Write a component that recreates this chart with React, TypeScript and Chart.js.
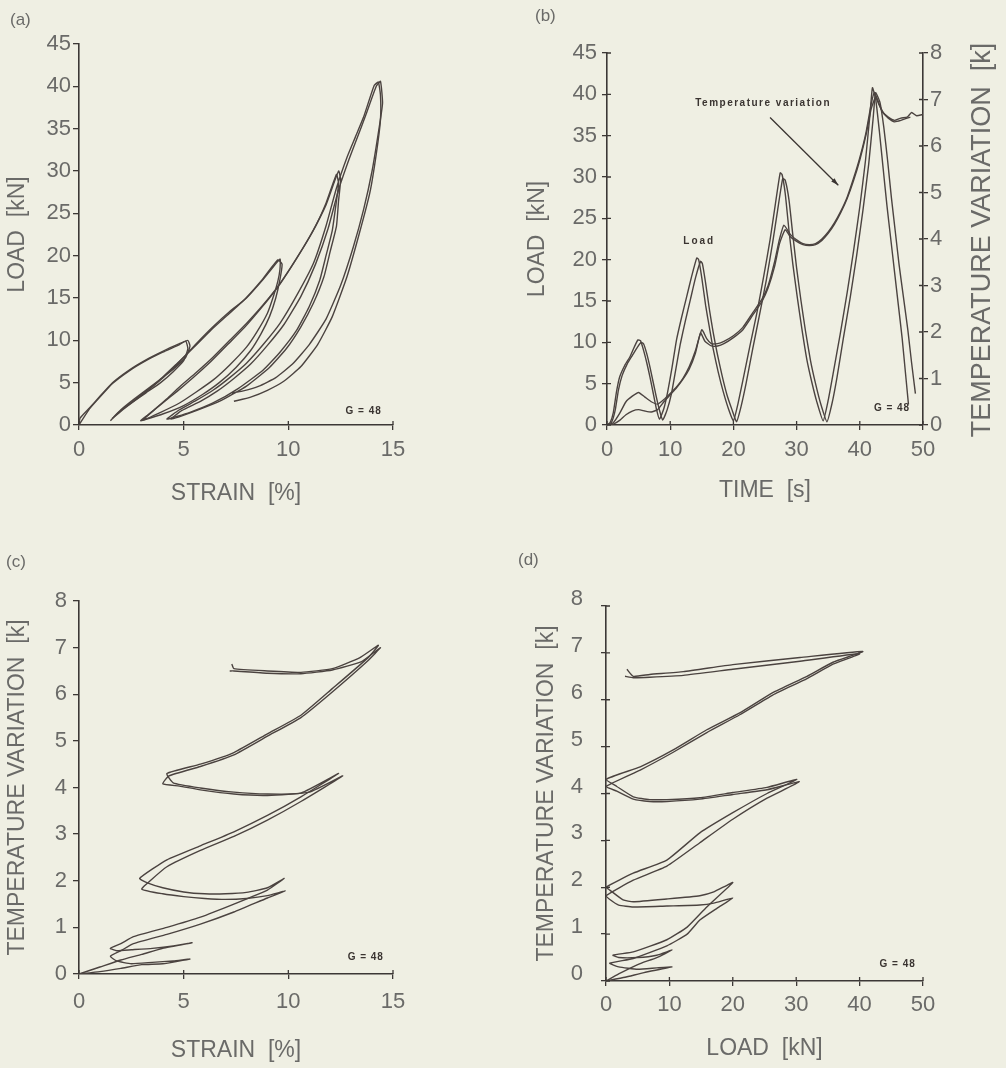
import React, { useEffect, useRef } from "react";
import { Chart, registerables } from "chart.js";

Chart.register(...registerables);

const BG = "#efefe3";
const INK = "#4b4340";
const AXIS = "#3c3836";
const TXT = "#6a6a68";
const NOTE = "#3a3431";
const FONT = "'Liberation Sans', Arial, Helvetica, sans-serif";
const NARROW = "'Liberation Sans Narrow', 'Liberation Sans', Arial, sans-serif";

// ---------------- (a) LOAD vs STRAIN ----------------
const aStrain1 = [0, 0.05, 0.5, 1.0, 1.6, 2.4, 3.2, 4.0, 4.8, 5.2,
  5.3, 5.1, 4.6, 4.0, 3.3, 2.6, 2.0, 1.6,
  2.2, 3.2, 4.2, 5.0, 5.6, 6.4, 7.2, 8.0, 8.8, 9.6,
  9.6, 9.5, 9.3, 9.0, 8.5, 8.0, 7.2, 6.4, 5.6, 4.8, 3.9, 3.06,
  3.6, 4.2, 4.8, 5.6, 6.4, 7.2, 8.0, 8.8, 9.6, 10.4, 11.2, 11.8, 12.3,
  12.4, 12.3, 12.1, 11.8, 11.5, 11.0, 10.4, 9.6, 8.8, 7.6, 6.4, 5.3, 4.2,
  4.8, 5.6, 6.4, 7.2, 8.0, 8.8, 9.6, 10.4, 11.2, 11.8, 12.3, 12.8, 13.2, 13.6, 14.1, 14.3,
  14.4, 14.4, 14.2, 13.9, 13.4, 12.8, 12.1, 11.4, 10.6, 9.8, 9.0, 8.2, 7.4];
const aLoad1 = [0, 0.8, 2.0, 3.4, 5.0, 6.5, 7.7, 8.7, 9.6, 10.0,
  9.3, 8.0, 6.8, 5.6, 4.3, 3.0, 1.8, 0.8,
  2.0, 3.9, 6.0, 8.0, 9.6, 11.6, 13.4, 15.0, 17.2, 19.6,
  18.4, 17.0, 15.3, 13.2, 11.0, 9.2, 7.1, 5.3, 3.9, 2.6, 1.5, 0.6,
  1.8, 3.1, 4.5, 6.2, 8.0, 10.0, 12.0, 14.2, 16.7, 19.7, 23.0, 26.2, 29.6,
  28.5, 26.5, 23.0, 20.0, 17.1, 14.0, 11.2, 8.6, 6.5, 4.3, 2.6, 1.5, 0.7,
  1.8, 2.9, 4.1, 5.6, 7.3, 9.5, 12.0, 15.3, 19.1, 23.5, 28.0, 31.6, 34.0, 36.4, 40.1, 40.5,
  39.0, 36.0, 32.0, 27.5, 22.7, 17.5, 12.8, 9.5, 6.9, 5.2, 4.1, 3.3, 2.8];
const aStrain2 = [0, 0.5, 1.0, 1.6, 2.4, 3.2, 4.0, 4.8, 5.1,
  5.2, 5.0, 4.5, 3.9, 3.2, 2.5, 1.9, 1.5,
  1.9, 2.8, 3.8, 4.7, 5.5, 6.3, 7.1, 7.9, 8.7, 9.5,
  9.7, 9.6, 9.4, 9.1, 8.7, 8.2, 7.5, 6.7, 5.9, 5.0, 4.0, 2.95,
  3.3, 4.0, 4.7, 5.5, 6.3, 7.1, 7.9, 8.7, 9.5, 10.3, 11.1, 11.8, 12.4,
  12.5, 12.4, 12.3, 12.0, 11.7, 11.2, 10.6, 9.9, 9.1, 8.0, 6.8, 5.6, 4.4,
  4.9, 5.8, 6.6, 7.4, 8.2, 9.0, 9.8, 10.6, 11.3, 11.9, 12.4, 12.9, 13.3, 13.7, 14.2, 14.4,
  14.5, 14.3, 14.0, 13.6, 13.1, 12.5, 11.8, 11.0, 10.2, 9.4, 8.6, 7.8, 7.3];
const aLoad2 = [0, 1.9, 3.3, 4.9, 6.4, 7.6, 8.6, 9.5, 9.9,
  9.0, 7.6, 6.3, 5.0, 3.8, 2.6, 1.5, 0.5,
  1.5, 3.2, 5.2, 7.3, 9.2, 11.2, 13.0, 14.8, 17.0, 19.5,
  19.0, 17.2, 15.0, 12.8, 10.8, 8.8, 6.8, 5.0, 3.6, 2.3, 1.3, 0.5,
  1.2, 2.6, 4.0, 5.7, 7.5, 9.5, 11.5, 13.8, 16.3, 19.3, 22.6, 26.0, 30.0,
  29.0, 26.5, 23.5, 20.5, 17.5, 14.4, 11.6, 9.0, 6.8, 4.6, 2.9, 1.7, 0.7,
  1.7, 2.8, 4.0, 5.5, 7.2, 9.4, 11.9, 15.2, 19.0, 23.2, 27.8, 31.4, 34.0, 36.6, 40.0, 40.6,
  38.0, 34.5, 30.0, 25.5, 21.0, 16.5, 12.5, 9.5, 7.2, 5.6, 4.6, 4.0, 3.8];

// ---------------- (b) LOAD & TEMPERATURE vs TIME ----------------
const bTime1 = [0, 0.5, 1.0, 1.5, 2.0, 2.8, 3.6, 4.3, 4.9, 5.3, 5.8, 6.3, 6.8, 7.3, 7.8, 8.3,
  9.0, 9.6, 10.3, 11.0, 11.8, 12.6, 13.4, 14.2, 14.5,
  15.0, 15.6, 16.2, 16.8, 17.6, 18.4, 19.2, 20.0,
  20.7, 21.5, 22.6, 23.7, 24.8, 25.8, 26.6, 27.4, 27.7,
  28.2, 28.8, 29.4, 30.1, 30.8, 31.6, 32.4, 33.2, 34.2,
  35.0, 35.8, 36.9, 38.0, 39.0, 40.0, 40.9, 41.6, 42.0,
  42.5, 43.1, 43.7, 44.3, 44.9, 45.5, 46.1, 46.7, 47.2, 47.7];
const bLoad1 = [0, 0.3, 1.5, 4.0, 5.8, 7.2, 8.2, 9.4, 10.3, 10.2, 9.0, 7.5, 5.8, 3.9, 2.0, 0.7,
  2.0, 4.0, 7.0, 10.3, 13.0, 15.5, 18.0, 20.2, 20.0,
  17.8, 14.5, 11.8, 9.2, 6.4, 4.0, 2.0, 0.5,
  2.5, 5.4, 9.5, 13.5, 18.0, 22.4, 26.5, 30.5, 30.3,
  28.0, 23.5, 19.5, 15.5, 11.8, 8.0, 5.2, 2.8, 0.5,
  3.0, 6.3, 11.0, 16.0, 21.0, 26.4, 32.0, 37.5, 40.8,
  39.5, 35.5, 31.0, 26.5, 22.5, 18.5, 14.5, 10.5, 6.5, 2.5];
const bTime2 = [0, 0.7, 1.3, 1.8, 2.4, 3.2, 4.0, 4.8, 5.4, 5.8, 6.3, 6.8, 7.3, 7.8, 8.3, 8.8,
  9.5, 10.2, 10.9, 11.6, 12.4, 13.2, 14.0, 14.8, 15.1,
  15.6, 16.2, 16.8, 17.4, 18.2, 19.0, 19.8, 20.5,
  21.2, 22.0, 23.0, 24.1, 25.2, 26.2, 27.0, 27.8, 28.2,
  28.8, 29.4, 30.0, 30.7, 31.4, 32.2, 33.0, 33.8, 34.8,
  35.6, 36.4, 37.4, 38.5, 39.5, 40.5, 41.4, 42.1, 42.5,
  43.2, 43.8, 44.4, 45.0, 45.6, 46.2, 46.9, 47.6, 48.2, 48.8];
const bLoad2 = [0, 0.3, 1.8, 4.2, 6.0, 7.4, 8.4, 9.4, 10.0, 9.8, 8.6, 7.0, 5.2, 3.4, 1.8, 0.6,
  1.8, 3.8, 6.8, 9.8, 12.6, 15.2, 17.8, 19.8, 19.5,
  17.2, 14.0, 11.2, 8.8, 6.0, 3.6, 1.8, 0.4,
  2.2, 5.0, 9.0, 13.2, 17.5, 22.0, 26.0, 29.8, 29.6,
  27.2, 23.0, 19.0, 15.0, 11.4, 7.8, 5.0, 2.6, 0.4,
  2.6, 5.8, 10.5, 15.5, 20.5, 26.0, 31.5, 37.0, 40.2,
  39.0, 36.0, 32.0, 27.5, 23.5, 19.5, 15.5, 11.5, 7.5, 3.8];
const bTempTime1 = [0, 1, 2, 3, 4, 5, 6, 7, 8, 9, 10, 11, 12, 13, 14, 15, 15.8, 16.5, 17.5, 18.5, 20,
  21.5, 23, 24.5, 25.5, 26.5, 27.3, 28, 29, 30, 31, 32, 33, 34, 35, 36, 37, 38, 39, 40, 41,
  41.8, 42.3, 42.8, 43.5, 44.5, 45.5, 46.5, 47.5, 48.2, 49, 50];
const bTemp1 = [0, 0.05, 0.25, 0.5, 0.62, 0.7, 0.6, 0.5, 0.45, 0.55, 0.68, 0.82, 1.0, 1.25, 1.6, 2.05, 1.85, 1.75, 1.75, 1.8, 1.92,
  2.1, 2.4, 2.7, 3.0, 3.5, 4.0, 4.3, 4.1, 3.98, 3.9, 3.88, 3.9, 4.0, 4.15, 4.35, 4.6, 4.9, 5.3, 5.75, 6.3,
  6.9, 7.15, 7.0, 6.75, 6.62, 6.55, 6.6, 6.62, 6.72, 6.65, 6.68];
const bTempTime2 = [0, 1, 2, 3, 4, 5, 6, 7, 8, 9, 10, 11, 12, 13, 14, 14.8, 15.5, 16.5, 17.5, 18.5, 20,
  21.5, 23, 24.5, 25.5, 26.5, 27.3, 28.2, 29, 30, 31, 32, 33, 34, 35, 36, 37, 38, 39, 40, 41,
  41.8, 42.5, 43, 43.8, 44.5, 45.5, 46.5, 47.5, 48];
const bTemp2 = [0, 0.02, 0.1, 0.22, 0.3, 0.33, 0.3, 0.28, 0.33, 0.5, 0.65, 0.8, 0.98, 1.2, 1.55, 1.98, 1.8, 1.7, 1.7, 1.75, 1.88,
  2.05, 2.35, 2.65, 2.95, 3.4, 3.9, 4.2, 4.05, 3.95, 3.88, 3.86, 3.88, 3.97, 4.12, 4.32, 4.57, 4.87, 5.25, 5.7, 6.25,
  6.8, 7.05, 6.9, 6.7, 6.6, 6.52, 6.55, 6.6, 6.62];

// ---------------- (c) TEMPERATURE vs STRAIN ----------------
const cStrain1 = [0, 1, 2, 3, 4, 5.4, 4.5, 3.5, 2.5, 1.8, 1.5,
  2.0, 2.6, 4.2, 5.8, 7.4, 9.0, 9.8,
  9.0, 8.0, 7.0, 6.0, 5.0, 4.0, 3.3, 2.9,
  4.2, 5.8, 7.4, 9.0, 10.6, 12.4,
  10.6, 9.0, 7.4, 5.8, 4.5, 4.2,
  5.8, 7.4, 9.0, 10.6, 12.1, 13.8, 14.3,
  13.4, 12.1, 10.6, 9.0, 7.4, 7.3];
const cTemp1 = [0, 0.15, 0.3, 0.42, 0.55, 0.67, 0.6, 0.55, 0.52, 0.5, 0.55,
  0.65, 0.8, 1.0, 1.22, 1.5, 1.8, 2.05,
  1.85, 1.75, 1.72, 1.72, 1.76, 1.85, 1.95, 2.05,
  2.45, 2.75, 3.05, 3.4, 3.8, 4.3,
  3.88, 3.86, 3.9, 3.99, 4.1, 4.3,
  4.5, 4.75, 5.15, 5.55, 6.12, 6.78, 7.05,
  6.78, 6.55, 6.47, 6.5, 6.55, 6.65];
const cStrain2 = [0, 1, 2, 3, 4, 5.3, 4.5, 3.5, 2.5, 1.8, 1.5,
  2.0, 2.6, 4.2, 5.8, 7.4, 9.0, 9.85,
  9.0, 8.0, 7.0, 6.0, 5.0, 4.0, 3.0,
  3.4, 4.2, 5.8, 7.4, 9.0, 10.6, 12.6,
  11.0, 9.0, 7.4, 5.8, 4.8, 4.0,
  4.3, 5.8, 7.4, 9.0, 10.6, 12.1, 13.8, 14.4,
  13.5, 12.1, 10.6, 9.0, 7.4, 7.2];
const cTemp2 = [0, 0.05, 0.12, 0.2, 0.22, 0.32, 0.28, 0.25, 0.22, 0.28, 0.38,
  0.5, 0.65, 0.85, 1.07, 1.33, 1.63, 1.78,
  1.68, 1.62, 1.6, 1.62, 1.66, 1.72, 1.82,
  2.0, 2.3, 2.65, 2.95, 3.3, 3.7, 4.25,
  3.9, 3.83, 3.86, 3.95, 4.03, 4.08,
  4.25, 4.45, 4.7, 5.1, 5.5, 6.05, 6.72, 7.0,
  6.7, 6.52, 6.44, 6.45, 6.5, 6.5];

// ---------------- (d) TEMPERATURE vs LOAD ----------------
const dLoad1 = [0, 2, 5, 8, 10.4, 8, 5, 2, 1.1,
  4.3, 9.6, 12.8, 15.9, 20.0,
  17.0, 14.8, 9.6, 4.3, 2.7, 0.6, 0,
  4.3, 9.6, 14.8, 20.0, 25.4, 30.1,
  25.4, 20.0, 14.8, 9.6, 6.9, 4.3, 1.7, 0,
  5.4, 10.6, 15.9, 21.1, 26.3, 31.7, 35.8, 40.5,
  30.6, 20.0, 12.2, 6.9, 4.3, 3.3];
const dTemp1 = [0, 0.15, 0.35, 0.5, 0.66, 0.55, 0.5, 0.5, 0.55,
  0.62, 0.88, 1.15, 1.58, 2.1,
  1.9, 1.82, 1.75, 1.69, 1.73, 1.94, 2.0,
  2.3, 2.58, 3.16, 3.59, 4.0, 4.3,
  4.13, 4.02, 3.91, 3.87, 3.87, 3.93, 4.15, 4.3,
  4.57, 4.93, 5.36, 5.72, 6.15, 6.5, 6.8, 7.03,
  6.9, 6.75, 6.6, 6.54, 6.5, 6.65];
const dLoad2 = [0, 3, 6, 10.4, 8, 5, 2, 0.6,
  4.3, 9.6, 12.8, 14.8, 17.5, 20.0,
  17.0, 14.8, 9.6, 4.3, 2.0, 0.5, 0,
  4.3, 9.6, 14.8, 20.0, 25.4, 30.5,
  25.4, 20.0, 14.8, 9.6, 6.9, 4.3, 1.7, 0,
  5.4, 10.6, 15.9, 21.1, 26.3, 31.7, 35.8, 40.0,
  30.6, 20.0, 12.2, 6.9, 4.3, 3.0];
const dTemp2 = [0, 0.08, 0.18, 0.3, 0.28, 0.25, 0.3, 0.38,
  0.48, 0.75, 1.0, 1.3, 1.55, 1.77,
  1.66, 1.62, 1.6, 1.58, 1.62, 1.75, 1.82,
  2.15, 2.45, 2.95, 3.45, 3.9, 4.25,
  4.08, 3.98, 3.88, 3.83, 3.83, 3.88, 4.05, 4.15,
  4.5, 4.88, 5.3, 5.68, 6.1, 6.45, 6.76, 6.98,
  6.82, 6.65, 6.52, 6.48, 6.47, 6.5];

// tick values
const aStrainTicks = [0, 15, 5];
const aLoadTicks = [0, 45, 5];
const bTimeTicks = [0, 50, 10];
const bTempTicks = [0, 8, 1];
const cTempTicks = [0, 8, 1];
const dLoadTicks = [0, 50, 10];

type P = { x: number; y: number };
const zip = (xs: number[], ys: number[]): P[] => xs.map((x, i) => ({ x, y: ys[i] }));

const extrasPlugin = {
  id: "extras",
  afterDraw(chart: any, _args: any, opts: any) {
    const ctx = chart.ctx;
    ctx.save();
    const cross = (opts && opts.cross) || {};
    ctx.strokeStyle = AXIS;
    ctx.lineWidth = 1.3;
    for (const id of Object.keys(cross)) {
      const s = chart.scales[id];
      if (!s) continue;
      const len = cross[id];
      ctx.beginPath();
      for (const t of s.ticks) {
        const p = s.getPixelForValue(t.value);
        if (s.isHorizontal()) {
          ctx.moveTo(p, s.top);
          ctx.lineTo(p, s.top - len);
        } else if (s.position === "left") {
          ctx.moveTo(s.right, p);
          ctx.lineTo(s.right + len, p);
        } else {
          ctx.moveTo(s.left, p);
          ctx.lineTo(s.left - len, p);
        }
      }
      ctx.stroke();
    }
    for (const t of (opts && opts.texts) || []) {
      const xs = chart.scales[t.xAxis || "x"];
      const ys = chart.scales[t.yAxis || "y"];
      ctx.fillStyle = t.color || NOTE;
      ctx.font = t.font;
      try { (ctx as any).letterSpacing = t.spacing || "0px"; } catch (e) {}
      ctx.textAlign = "center";
      ctx.textBaseline = "middle";
      ctx.fillText(t.text, xs.getPixelForValue(t.x), ys.getPixelForValue(t.y));
    }
    try { (ctx as any).letterSpacing = "0px"; } catch (e) {}
    for (const a of (opts && opts.arrows) || []) {
      const xs = chart.scales.x;
      const ys = chart.scales[a.yAxis || "y"];
      const x1 = xs.getPixelForValue(a.x1), y1 = ys.getPixelForValue(a.y1);
      const x2 = xs.getPixelForValue(a.x2), y2 = ys.getPixelForValue(a.y2);
      ctx.strokeStyle = NOTE;
      ctx.fillStyle = NOTE;
      ctx.lineWidth = 1.3;
      ctx.beginPath();
      ctx.moveTo(x1, y1);
      ctx.lineTo(x2, y2);
      ctx.stroke();
      const ang = Math.atan2(y2 - y1, x2 - x1);
      ctx.beginPath();
      ctx.moveTo(x2, y2);
      ctx.lineTo(x2 - 8 * Math.cos(ang - 0.3), y2 - 8 * Math.sin(ang - 0.3));
      ctx.lineTo(x2 - 8 * Math.cos(ang + 0.3), y2 - 8 * Math.sin(ang + 0.3));
      ctx.closePath();
      ctx.fill();
    }
    for (const r of (opts && opts.rotTitles) || []) {
      ctx.save();
      ctx.fillStyle = TXT;
      ctx.font = r.font;
      ctx.textAlign = "center";
      ctx.textBaseline = "middle";
      ctx.translate(r.px, r.py);
      ctx.rotate(-Math.PI / 2);
      ctx.fillText(r.text, 0, 0);
      ctx.restore();
    }
    ctx.restore();
  },
};

function scale(o: any) {
  return {
    type: "linear",
    position: o.pos,
    min: o.ticks[0],
    max: o.ticks[1],
    ticks: {
      stepSize: o.ticks[2],
      color: TXT,
      font: { family: FONT, size: 22 },
      padding: o.pad,
      labelOffset: o.labelOffset || 0,
      maxRotation: 0,
      autoSkip: false,
    },
    grid: { drawOnChartArea: false, drawTicks: true, tickLength: o.tl, color: AXIS, lineWidth: 1.3 },
    border: { display: true, color: AXIS, width: 1.6 },
    title: {
      display: !!o.title,
      text: o.title || "",
      color: TXT,
      font: { family: FONT, size: 23 },
      padding: 0,
    },
    afterFit: (s: any) => {
      if (s.isHorizontal()) s.height = o.size;
      else s.width = o.size;
    },
  };
}

const line = (data: P[], yAxisID = "y") => ({
  data,
  yAxisID,
  showLine: true,
  pointRadius: 0,
  borderColor: INK,
  backgroundColor: INK,
  borderWidth: 1.4,
  tension: 0.15,
  fill: false,
});

const noteFont = `bold 10px ${NARROW}`;

function baseOptions(padding: any, scales: any, extras: any) {
  return {
    responsive: false,
    animation: false,
    devicePixelRatio: 1,
    layout: { padding },
    scales,
    plugins: { legend: { display: false }, tooltip: { enabled: false }, extras },
  };
}

const configs: Record<string, () => any> = {
  a: () => ({
    type: "scatter",
    data: { datasets: [line(zip(aStrain1, aLoad1)), line(zip(aStrain2, aLoad2))] },
    options: baseOptions(
      { left: 4, top: 44, right: 107, bottom: 23 },
      {
        x: scale({ pos: "bottom", ticks: aStrainTicks, pad: 7, tl: 5, size: 82, title: "STRAIN  [%]" }),
        y: scale({ pos: "left", ticks: aLoadTicks, pad: 2, tl: 6, size: 75, title: "LOAD  [kN]" }),
      },
      {
        cross: { x: 4 },
        texts: [{ text: "G = 48", x: 13.6, y: 1.6, font: noteFont, spacing: "1px" }],
      }
    ),
    plugins: [extrasPlugin],
  }),
  b: () => ({
    type: "scatter",
    data: {
      datasets: [
        line(zip(bTime1, bLoad1)),
        line(zip(bTime2, bLoad2)),
        line(zip(bTempTime1, bTemp1), "y1"),
        line(zip(bTempTime2, bTemp2), "y1"),
      ],
    },
    options: baseOptions(
      { left: 24, top: 53, right: 43, bottom: 26 },
      {
        x: scale({ pos: "bottom", ticks: bTimeTicks, pad: 7, tl: 5, size: 79, title: "TIME  [s]" }),
        y: scale({ pos: "left", ticks: aLoadTicks, pad: 5, tl: 5, size: 83, title: "LOAD  [kN]" }),
        y1: scale({ pos: "right", ticks: bTempTicks, pad: 2, tl: 5, size: 40 }),
      },
      {
        cross: { x: 4, y: 4, y1: 4 },
        texts: [
          { text: "Load", x: 14.6, y: 22.2, font: noteFont, spacing: "2px" },
          { text: "Temperature variation", x: 24.7, y: 38.9, font: noteFont, spacing: "1.5px" },
          { text: "G = 48", x: 45.1, y: 2.0, font: noteFont, spacing: "1px" },
        ],
        arrows: [{ x1: 25.8, y1: 37.2, x2: 36.6, y2: 29.0 }],
        rotTitles: [{ text: "TEMPERATURE VARIATION  [k]", px: 483, py: 240, font: `27px ${FONT}` }],
      }
    ),
    plugins: [extrasPlugin],
  }),
  c: () => ({
    type: "scatter",
    data: { datasets: [line(zip(cStrain1, cTemp1)), line(zip(cStrain2, cTemp2))] },
    options: baseOptions(
      { left: 4, top: 61, right: 107, bottom: 4 },
      {
        x: scale({ pos: "bottom", ticks: aStrainTicks, pad: 10, tl: 5, size: 90, title: "STRAIN  [%]" }),
        y: scale({ pos: "left", ticks: cTempTicks, pad: 6, tl: 6, size: 75, title: "TEMPERATURE VARIATION  [k]" }),
      },
      {
        cross: { x: 4 },
        texts: [{ text: "G = 48", x: 13.7, y: 0.36, font: noteFont, spacing: "1px" }],
      }
    ),
    plugins: [extrasPlugin],
  }),
  d: () => ({
    type: "scatter",
    data: { datasets: [line(zip(dLoad1, dTemp1)), line(zip(dLoad2, dTemp2))] },
    options: baseOptions(
      { left: 33, top: 66, right: 83, bottom: 6 },
      {
        x: scale({ pos: "bottom", ticks: dLoadTicks, pad: 6, tl: 5, size: 81, title: "LOAD  [kN]" }),
        y: scale({ pos: "left", ticks: cTempTicks, pad: 18, tl: 5, size: 73, title: "TEMPERATURE VARIATION  [k]", labelOffset: -7 }),
      },
      {
        cross: { x: 4, y: 4 },
        texts: [{ text: "G = 48", x: 46, y: 0.36, font: noteFont, spacing: "1px" }],
      }
    ),
    plugins: [extrasPlugin],
  }),
};

function Panel(props: { id: string; left: number; top: number; width: number; height: number }) {
  const ref = useRef<HTMLCanvasElement>(null);
  useEffect(() => {
    const chart = new Chart(ref.current as HTMLCanvasElement, configs[props.id]());
    return () => chart.destroy();
  }, [props.id]);
  return (
    <canvas
      ref={ref}
      width={props.width}
      height={props.height}
      style={{ position: "absolute", left: props.left, top: props.top, width: props.width, height: props.height, display: "block" }}
    />
  );
}

const labelStyle = (left: number, top: number): React.CSSProperties => ({
  position: "absolute",
  left,
  top,
  fontFamily: FONT,
  fontSize: 17,
  color: TXT,
  lineHeight: "20px",
});

export default function App() {
  return (
    <div style={{ position: "absolute", left: 0, top: 0, width: 1006, height: 1068, background: BG, overflow: "hidden" }}>
      <Panel id="a" left={0} top={0} width={500} height={530} />
      <Panel id="b" left={500} top={0} width={506} height={530} />
      <Panel id="c" left={0} top={540} width={500} height={528} />
      <Panel id="d" left={500} top={540} width={506} height={528} />
      <div style={labelStyle(10, 10)}>(a)</div>
      <div style={labelStyle(535, 6)}>(b)</div>
      <div style={labelStyle(6, 552)}>(c)</div>
      <div style={labelStyle(518, 550)}>(d)</div>
    </div>
  );
}
